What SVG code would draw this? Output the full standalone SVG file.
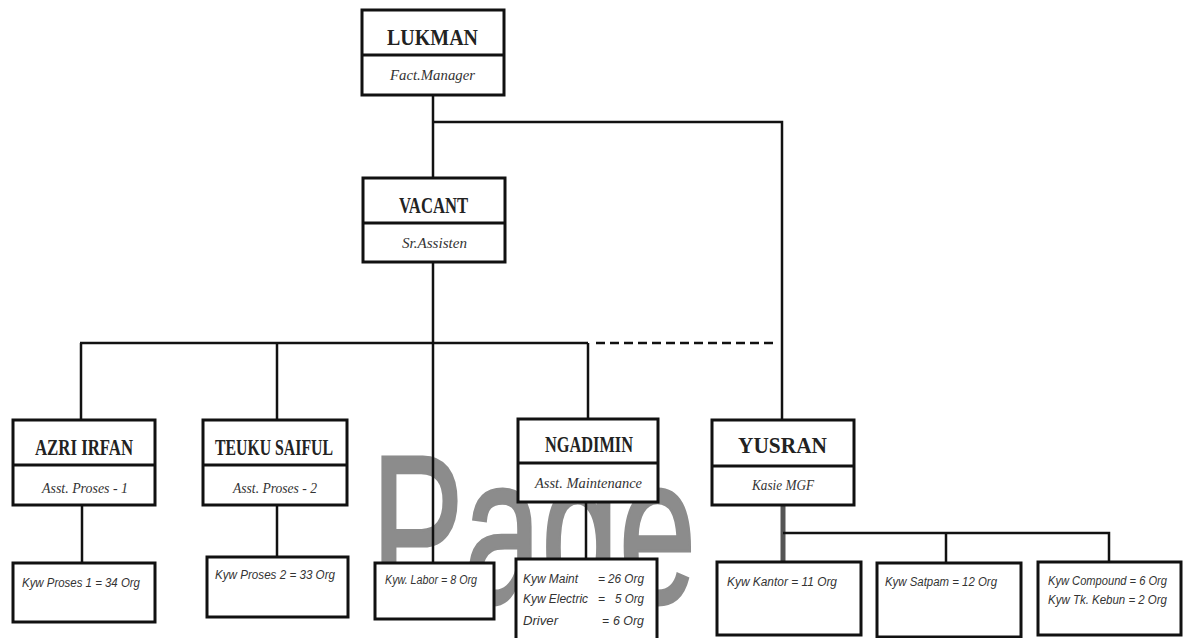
<svg xmlns="http://www.w3.org/2000/svg" width="1187" height="638" viewBox="0 0 1187 638">
<style>
.box{fill:#fff;stroke:#111;stroke-width:3}
.div{stroke:#111;stroke-width:3}
.ln{stroke:#111;stroke-width:2.5;fill:none}
.nm{font-family:"Liberation Serif",serif;font-weight:bold;font-size:24px;fill:#222}
.sb{font-family:"Liberation Serif",serif;font-style:italic;font-size:14px;fill:#333}
.tx{font-family:"Liberation Sans",sans-serif;font-style:italic;font-size:12px;fill:#333}
</style>
<rect width="1187" height="638" fill="#fff"/>
<text transform="translate(371,603) scale(0.66,1)" font-family="Liberation Sans,sans-serif" font-size="211" fill="#8c8c8c" stroke="#8c8c8c" stroke-width="3">Page</text>
<g id="connectors">
<path class="ln" d="M433 95V178M433 122H782V420" stroke-width="3"/>
<path class="ln" d="M433 262V563"/>
<path class="ln" d="M80 343H588" stroke-width="4"/>
<path class="ln" d="M596 343H776" stroke-width="4" stroke-dasharray="9,5"/>
<path class="ln" d="M81 343V420M277 343V420M588 343V419"/>
<path class="ln" d="M82 505V563M277 505V557M586 502V559"/>
<path d="M783 505V562" stroke="#555" stroke-width="5"/>
<path class="ln" d="M783 533H1109V562M946 533V562"/>
</g>
<g id="lukman">
<rect class="box" x="362" y="10" width="142" height="85"/>
<line class="div" x1="362" y1="55" x2="504" y2="55"/>
<text class="nm" x="387" y="45" textLength="91" lengthAdjust="spacingAndGlyphs">LUKMAN</text>
<text class="sb" x="390" y="80" textLength="85" lengthAdjust="spacingAndGlyphs">Fact.Manager</text>
</g>
<g id="vacant">
<rect class="box" x="363" y="178" width="142" height="84"/>
<line class="div" x1="363" y1="223" x2="505" y2="223"/>
<text class="nm" x="399" y="213" textLength="69" lengthAdjust="spacingAndGlyphs">VACANT</text>
<text class="sb" x="402" y="248" textLength="65" lengthAdjust="spacingAndGlyphs">Sr.Assisten</text>
</g>
<g id="azri">
<rect class="box" x="13" y="420" width="142" height="85"/>
<line class="div" x1="13" y1="465" x2="155" y2="465"/>
<text class="nm" x="35" y="455" textLength="98" lengthAdjust="spacingAndGlyphs">AZRI IRFAN</text>
<text class="sb" x="42" y="493" textLength="86" lengthAdjust="spacingAndGlyphs">Asst. Proses - 1</text>
</g>
<g id="teuku">
<rect class="box" x="203" y="420" width="144" height="85"/>
<line class="div" x1="203" y1="465" x2="347" y2="465"/>
<text class="nm" x="215" y="455" textLength="118" lengthAdjust="spacingAndGlyphs">TEUKU SAIFUL</text>
<text class="sb" x="233" y="493" textLength="84" lengthAdjust="spacingAndGlyphs">Asst. Proses - 2</text>
</g>
<g id="ngadimin">
<rect class="box" x="518" y="419" width="140" height="83"/>
<line class="div" x1="518" y1="463" x2="658" y2="463"/>
<text class="nm" x="545" y="452" textLength="88" lengthAdjust="spacingAndGlyphs">NGADIMIN</text>
<text class="sb" x="535" y="488" textLength="107" lengthAdjust="spacingAndGlyphs">Asst. Maintenance</text>
</g>
<g id="yusran">
<rect class="box" x="712" y="420" width="142" height="85"/>
<line class="div" x1="712" y1="466" x2="854" y2="466"/>
<text class="nm" x="738" y="453" textLength="89" lengthAdjust="spacingAndGlyphs">YUSRAN</text>
<text class="sb" x="752" y="490" textLength="62" lengthAdjust="spacingAndGlyphs">Kasie MGF</text>
</g>
<g id="proses1">
<rect class="box" x="13" y="563" width="142" height="59"/>
<text class="tx" x="22" y="587" textLength="118" lengthAdjust="spacingAndGlyphs">Kyw Proses 1  = 34 Org</text>
</g>
<g id="proses2">
<rect class="box" x="207" y="557" width="141" height="60"/>
<text class="tx" x="215" y="579" textLength="120" lengthAdjust="spacingAndGlyphs">Kyw Proses 2  =  33 Org</text>
</g>
<g id="labor">
<rect class="box" x="375" y="563" width="119" height="56"/>
<text class="tx" x="385" y="584" textLength="92" lengthAdjust="spacingAndGlyphs">Kyw. Labor = 8 Org</text>
</g>
<g id="maint">
<rect class="box" x="516" y="559" width="141" height="85"/>
<text class="tx" x="523" y="583" textLength="55" lengthAdjust="spacingAndGlyphs">Kyw Maint</text>
<text class="tx" x="598" y="583">=</text>
<text class="tx" x="608" y="583" textLength="36" lengthAdjust="spacingAndGlyphs">26 Org</text>
<text class="tx" x="523" y="603" textLength="65" lengthAdjust="spacingAndGlyphs">Kyw Electric</text>
<text class="tx" x="598" y="603">=</text>
<text class="tx" x="615" y="603" textLength="29" lengthAdjust="spacingAndGlyphs">5 Org</text>
<text class="tx" x="523" y="625" textLength="35" lengthAdjust="spacingAndGlyphs">Driver</text>
<text class="tx" x="602" y="625">=</text>
<text class="tx" x="613" y="625" textLength="31" lengthAdjust="spacingAndGlyphs">6 Org</text>
</g>
<g id="kantor">
<rect class="box" x="717" y="562" width="144" height="73"/>
<text class="tx" x="727" y="586" textLength="110" lengthAdjust="spacingAndGlyphs">Kyw Kantor = 11 Org</text>
</g>
<g id="satpam">
<rect class="box" x="877" y="563" width="144" height="74"/>
<text class="tx" x="885" y="586" textLength="112" lengthAdjust="spacingAndGlyphs">Kyw Satpam = 12 Org</text>
</g>
<g id="compound">
<rect class="box" x="1038" y="562" width="143" height="73"/>
<text class="tx" x="1048" y="585" textLength="119" lengthAdjust="spacingAndGlyphs">Kyw Compound = 6 Org</text>
<text class="tx" x="1048" y="604" textLength="119" lengthAdjust="spacingAndGlyphs">Kyw Tk. Kebun  = 2 Org</text>
</g>
</svg>
